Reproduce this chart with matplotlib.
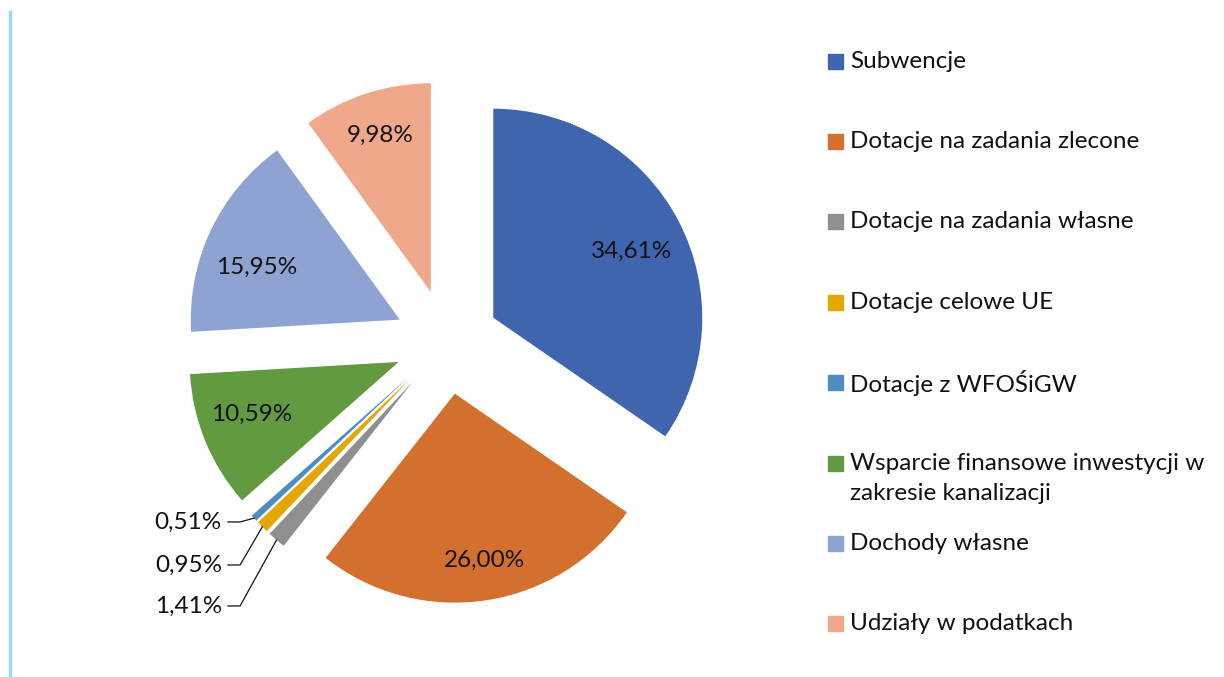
import matplotlib.pyplot as plt
import numpy as np
from matplotlib.lines import Line2D
from matplotlib.patches import Rectangle

# data (order as in the legend, drawn clockwise from 12 o'clock)
categories = ['Subwencje', 'Dotacje na zadania zlecone', 'Dotacje na zadania własne',
              'Dotacje celowe UE', 'Dotacje z WFOŚiGW',
              'Wsparcie finansowe inwestycji w\nzakresie kanalizacji',
              'Dochody własne', 'Udziały w podatkach']
shares = [34.61, 26.00, 1.41, 0.95, 0.51, 10.59, 15.95, 9.98]
colors = ['#3F65AE', '#D4702D', '#8F8F8F', '#E2A800', '#4F8CC2', '#629B3F', '#8FA3D3', '#F0A88A']

# label placement: radius inside wedge and angle nudge (deg), None = outside with leader
label_r = [0.735, 0.81, None, None, None, 0.745, 0.73, 0.79]
label_dang = [-2.3, 1.4, 0, 0, 0, -2.9, 5.3, 0]
small_label_y = {4: -0.861, 3: -1.067, 2: -1.263}   # 0,51% / 0,95% / 1,41%

plt.rcParams['font.family'] = ['Lato', 'DejaVu Sans']
FS = 17.5

fig = plt.figure(figsize=(12.24, 6.77), dpi=100)
ax = fig.add_axes([133.5 / 1224, 21.5 / 677, 627 / 1224, 627 / 677])

wedges, _ = ax.pie(shares, colors=colors, startangle=90, counterclock=False,
                   explode=[0.25] * len(shares), radius=1.0,
                   wedgeprops=dict(linewidth=0))
ax.set_xlim(-1.5, 1.5)
ax.set_ylim(-1.5, 1.5)
ax.axis('off')

def fmt(v):
    return ('%.2f%%' % v).replace('.', ',')

for i, w in enumerate(wedges):
    ang = np.deg2rad((w.theta1 + w.theta2) / 2)
    cx, cy = w.center
    if label_r[i] is not None:
        r = label_r[i]
        a = ang + np.deg2rad(label_dang[i])
        ax.text(cx + r * np.cos(a), cy + r * np.sin(a), fmt(shares[i]),
                ha='center', va='center', fontsize=FS, color='#111111')
    else:
        tip = (cx + w.r * np.cos(ang), cy + w.r * np.sin(ang))
        ly = small_label_y[i]
        ax.text(-1.077, ly, fmt(shares[i]), ha='right', va='center',
                fontsize=FS, color='#111111')
        ax.plot([-1.048, -0.99, tip[0]], [ly, ly, tip[1]], color='#111111', lw=0.9)

# legend drawn by hand, Excel style (evenly spaced rows)
for i, (lab, c) in enumerate(zip(categories, colors)):
    y = 1 - (61 + i * 80.4) / 677
    fig.patches.append(Rectangle((828 / 1224, y - 7.5 / 677), 15 / 1224, 15 / 677,
                                 transform=fig.transFigure, color=c))
    lines = lab.split('\n')
    for j, t in enumerate(lines):
        fig.text(850 / 1224, y - j * 30 / 677, t, ha='left', va='center',
                 fontsize=FS, color='#111111')

# light blue border on the left
fig.add_artist(Line2D([10 / 1224, 10 / 1224], [0, 1 - 12 / 677],
                      transform=fig.transFigure, color='#9ED8F0', lw=2.5))

fig.savefig('out.png', dpi=100)
